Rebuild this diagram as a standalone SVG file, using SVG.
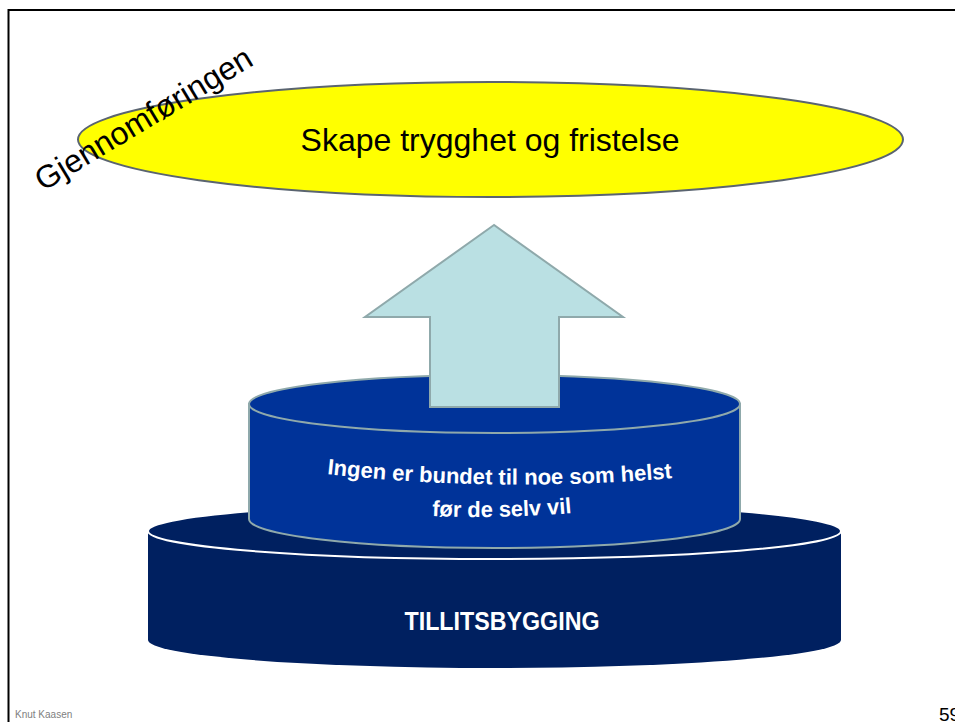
<svg xmlns="http://www.w3.org/2000/svg" width="955" height="722" viewBox="0 0 955 722">
<style>
.sans{font-family:"Liberation Sans",Arial,sans-serif}
.white{fill:#ffffff}
</style>
<defs>
<path id="arc1" d="M 327,474 Q 500,493 673,478"/>
<path id="arc2" d="M 432,516 Q 502,519 572,513"/>
</defs>
<rect width="955" height="722" fill="#ffffff"/>
<rect x="8.5" y="10" width="1000" height="800" fill="none" stroke="#000000" stroke-width="2"/>

<g id="goal">
<ellipse cx="490.5" cy="139.5" rx="412.5" ry="57.5" fill="#ffff00" stroke="#5a6470" stroke-width="2"/>
<text class="sans" x="490" y="151" font-size="32" text-anchor="middle" fill="#000000">Skape trygghet og fristelse</text>
</g>

<g id="label-gjennomforingen">
<text class="sans" x="149" y="128" font-size="32" text-anchor="middle" fill="#000000" transform="rotate(-31 149 128)">Gjennomføringen</text>
</g>

<g id="base">
<path d="M148,531 L148,640 A346.5,28 0 0 0 841,640 L841,531 Z" fill="#002060"/>
<ellipse cx="494.5" cy="531" rx="346.5" ry="28" fill="#002060" stroke="#ffffff" stroke-width="2"/>
<text class="sans" x="502" y="630" font-size="25" font-weight="bold" text-anchor="middle" textLength="195" lengthAdjust="spacingAndGlyphs" fill="#ffffff">TILLITSBYGGING</text>
</g>

<g id="middle">
<path d="M249,404 L249,519 A245.5,29 0 0 0 740,519 L740,404 Z" fill="#003399" stroke="#8fa9ab" stroke-width="2"/>
<ellipse cx="494.5" cy="404" rx="245.5" ry="29" fill="#003399" stroke="#8fa9ab" stroke-width="2"/>
<text class="sans white" font-size="22" font-weight="bold"><textPath href="#arc1" textLength="346" lengthAdjust="spacingAndGlyphs">Ingen er bundet til noe som helst</textPath></text>
<text class="sans white" font-size="22" font-weight="bold"><textPath href="#arc2" textLength="140" lengthAdjust="spacingAndGlyphs">før de selv vil</textPath></text>
</g>

<g id="connectors">
<polygon id="arrow-up" points="494,225 365,317 430,317 430,407 559,407 559,317 623,317" fill="#bae0e3" stroke="#8fa9ab" stroke-width="2"/>
</g>

<g id="footer">
<text class="sans" x="15" y="718" font-size="10" fill="#808080">Knut Kaasen</text>
<text class="sans" x="939" y="721" font-size="19" fill="#000000">59</text>
</g>
</svg>
